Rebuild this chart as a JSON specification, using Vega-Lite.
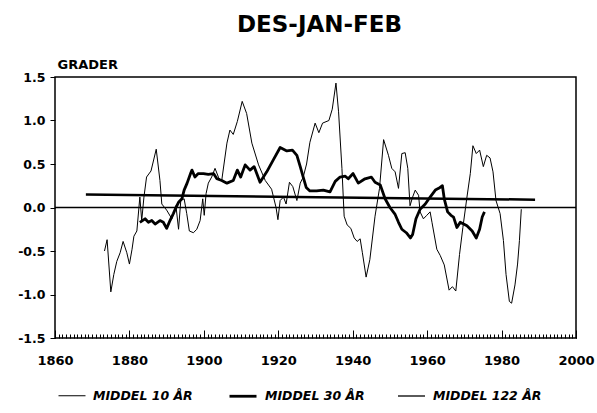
{
  "$schema": "https://vega.github.io/schema/vega-lite/v6.json",
  "width": 521,
  "height": 261,
  "autosize": {"type": "none"},
  "padding": {"left": 55, "top": 77, "right": 21, "bottom": 75},
  "background": "white",
  "title": {"text": "DES-JAN-FEB", "font": "DejaVu Sans", "fontSize": 23, "fontWeight": "bold", "color": "black", "anchor": "middle", "frame": "group", "offset": 21, "dx": 4},
  "config": {
    "view": {"stroke": "black", "strokeWidth": 1.5},
    "axis": {"labelFont": "DejaVu Sans", "labelFontWeight": "bold", "labelColor": "black", "tickColor": "black", "grid": false, "domain": false, "titleColor": "black"}
  },
  "datasets": {
    "series": [
      {"s": "MIDDEL 10 ÅR", "year": 1873.3, "v": -0.50},
      {"s": "MIDDEL 10 ÅR", "year": 1874.0, "v": -0.37},
      {"s": "MIDDEL 10 ÅR", "year": 1875.0, "v": -0.97},
      {"s": "MIDDEL 10 ÅR", "year": 1875.8, "v": -0.77},
      {"s": "MIDDEL 10 ÅR", "year": 1876.6, "v": -0.62},
      {"s": "MIDDEL 10 ÅR", "year": 1877.5, "v": -0.52},
      {"s": "MIDDEL 10 ÅR", "year": 1878.3, "v": -0.39},
      {"s": "MIDDEL 10 ÅR", "year": 1879.3, "v": -0.52},
      {"s": "MIDDEL 10 ÅR", "year": 1880.0, "v": -0.65},
      {"s": "MIDDEL 10 ÅR", "year": 1880.7, "v": -0.48},
      {"s": "MIDDEL 10 ÅR", "year": 1881.2, "v": -0.33},
      {"s": "MIDDEL 10 ÅR", "year": 1882.0, "v": -0.27},
      {"s": "MIDDEL 10 ÅR", "year": 1882.8, "v": 0.12},
      {"s": "MIDDEL 10 ÅR", "year": 1883.3, "v": -0.15},
      {"s": "MIDDEL 10 ÅR", "year": 1883.9, "v": 0.12},
      {"s": "MIDDEL 10 ÅR", "year": 1884.6, "v": 0.35},
      {"s": "MIDDEL 10 ÅR", "year": 1885.8, "v": 0.42},
      {"s": "MIDDEL 10 ÅR", "year": 1887.2, "v": 0.67},
      {"s": "MIDDEL 10 ÅR", "year": 1888.2, "v": 0.31},
      {"s": "MIDDEL 10 ÅR", "year": 1888.7, "v": 0.04},
      {"s": "MIDDEL 10 ÅR", "year": 1890.0, "v": -0.03},
      {"s": "MIDDEL 10 ÅR", "year": 1891.4, "v": -0.13},
      {"s": "MIDDEL 10 ÅR", "year": 1892.5, "v": 0.02},
      {"s": "MIDDEL 10 ÅR", "year": 1893.2, "v": -0.25},
      {"s": "MIDDEL 10 ÅR", "year": 1893.8, "v": 0.08},
      {"s": "MIDDEL 10 ÅR", "year": 1894.7, "v": 0.10},
      {"s": "MIDDEL 10 ÅR", "year": 1895.4, "v": -0.07},
      {"s": "MIDDEL 10 ÅR", "year": 1896.1, "v": -0.27},
      {"s": "MIDDEL 10 ÅR", "year": 1897.2, "v": -0.29},
      {"s": "MIDDEL 10 ÅR", "year": 1898.1, "v": -0.25},
      {"s": "MIDDEL 10 ÅR", "year": 1899.0, "v": -0.15},
      {"s": "MIDDEL 10 ÅR", "year": 1899.7, "v": 0.10},
      {"s": "MIDDEL 10 ÅR", "year": 1900.1, "v": -0.09},
      {"s": "MIDDEL 10 ÅR", "year": 1900.6, "v": 0.16},
      {"s": "MIDDEL 10 ÅR", "year": 1901.2, "v": 0.28},
      {"s": "MIDDEL 10 ÅR", "year": 1902.1, "v": 0.35},
      {"s": "MIDDEL 10 ÅR", "year": 1903.0, "v": 0.45},
      {"s": "MIDDEL 10 ÅR", "year": 1904.0, "v": 0.34},
      {"s": "MIDDEL 10 ÅR", "year": 1904.8, "v": 0.31},
      {"s": "MIDDEL 10 ÅR", "year": 1906.2, "v": 0.74},
      {"s": "MIDDEL 10 ÅR", "year": 1907.0, "v": 0.89},
      {"s": "MIDDEL 10 ÅR", "year": 1907.9, "v": 0.84},
      {"s": "MIDDEL 10 ÅR", "year": 1909.0, "v": 0.99},
      {"s": "MIDDEL 10 ÅR", "year": 1910.3, "v": 1.22},
      {"s": "MIDDEL 10 ÅR", "year": 1911.5, "v": 1.08},
      {"s": "MIDDEL 10 ÅR", "year": 1912.9, "v": 0.74},
      {"s": "MIDDEL 10 ÅR", "year": 1914.7, "v": 0.49},
      {"s": "MIDDEL 10 ÅR", "year": 1916.5, "v": 0.31},
      {"s": "MIDDEL 10 ÅR", "year": 1918.2, "v": 0.21},
      {"s": "MIDDEL 10 ÅR", "year": 1919.4, "v": 0.0},
      {"s": "MIDDEL 10 ÅR", "year": 1919.9, "v": -0.14},
      {"s": "MIDDEL 10 ÅR", "year": 1920.5, "v": 0.08},
      {"s": "MIDDEL 10 ÅR", "year": 1921.4, "v": 0.12},
      {"s": "MIDDEL 10 ÅR", "year": 1922.1, "v": 0.04},
      {"s": "MIDDEL 10 ÅR", "year": 1923.0, "v": 0.29},
      {"s": "MIDDEL 10 ÅR", "year": 1923.9, "v": 0.24},
      {"s": "MIDDEL 10 ÅR", "year": 1925.0, "v": 0.08},
      {"s": "MIDDEL 10 ÅR", "year": 1925.9, "v": 0.28},
      {"s": "MIDDEL 10 ÅR", "year": 1926.7, "v": 0.35},
      {"s": "MIDDEL 10 ÅR", "year": 1927.6, "v": 0.50},
      {"s": "MIDDEL 10 ÅR", "year": 1928.5, "v": 0.75},
      {"s": "MIDDEL 10 ÅR", "year": 1929.9, "v": 0.97},
      {"s": "MIDDEL 10 ÅR", "year": 1930.9, "v": 0.86},
      {"s": "MIDDEL 10 ÅR", "year": 1931.9, "v": 0.97},
      {"s": "MIDDEL 10 ÅR", "year": 1933.6, "v": 1.00},
      {"s": "MIDDEL 10 ÅR", "year": 1934.5, "v": 1.13},
      {"s": "MIDDEL 10 ÅR", "year": 1935.5, "v": 1.43},
      {"s": "MIDDEL 10 ÅR", "year": 1936.2, "v": 1.10},
      {"s": "MIDDEL 10 ÅR", "year": 1937.1, "v": 0.45},
      {"s": "MIDDEL 10 ÅR", "year": 1937.7, "v": -0.10},
      {"s": "MIDDEL 10 ÅR", "year": 1938.5, "v": -0.20},
      {"s": "MIDDEL 10 ÅR", "year": 1939.5, "v": -0.24},
      {"s": "MIDDEL 10 ÅR", "year": 1940.4, "v": -0.35},
      {"s": "MIDDEL 10 ÅR", "year": 1941.2, "v": -0.39},
      {"s": "MIDDEL 10 ÅR", "year": 1942.0, "v": -0.36},
      {"s": "MIDDEL 10 ÅR", "year": 1942.6, "v": -0.52},
      {"s": "MIDDEL 10 ÅR", "year": 1943.6, "v": -0.80},
      {"s": "MIDDEL 10 ÅR", "year": 1944.6, "v": -0.60},
      {"s": "MIDDEL 10 ÅR", "year": 1946.0, "v": -0.10},
      {"s": "MIDDEL 10 ÅR", "year": 1947.2, "v": 0.22},
      {"s": "MIDDEL 10 ÅR", "year": 1948.3, "v": 0.78},
      {"s": "MIDDEL 10 ÅR", "year": 1949.6, "v": 0.60},
      {"s": "MIDDEL 10 ÅR", "year": 1950.5, "v": 0.45},
      {"s": "MIDDEL 10 ÅR", "year": 1951.4, "v": 0.41},
      {"s": "MIDDEL 10 ÅR", "year": 1952.3, "v": 0.22},
      {"s": "MIDDEL 10 ÅR", "year": 1953.2, "v": 0.62},
      {"s": "MIDDEL 10 ÅR", "year": 1954.1, "v": 0.63},
      {"s": "MIDDEL 10 ÅR", "year": 1954.8, "v": 0.45},
      {"s": "MIDDEL 10 ÅR", "year": 1955.4, "v": 0.02},
      {"s": "MIDDEL 10 ÅR", "year": 1956.1, "v": 0.12},
      {"s": "MIDDEL 10 ÅR", "year": 1956.8, "v": 0.20},
      {"s": "MIDDEL 10 ÅR", "year": 1957.7, "v": 0.14},
      {"s": "MIDDEL 10 ÅR", "year": 1958.1, "v": -0.05},
      {"s": "MIDDEL 10 ÅR", "year": 1959.0, "v": -0.13},
      {"s": "MIDDEL 10 ÅR", "year": 1959.9, "v": -0.09},
      {"s": "MIDDEL 10 ÅR", "year": 1960.8, "v": -0.05},
      {"s": "MIDDEL 10 ÅR", "year": 1961.3, "v": -0.17},
      {"s": "MIDDEL 10 ÅR", "year": 1962.6, "v": -0.48},
      {"s": "MIDDEL 10 ÅR", "year": 1963.5, "v": -0.55},
      {"s": "MIDDEL 10 ÅR", "year": 1964.6, "v": -0.66},
      {"s": "MIDDEL 10 ÅR", "year": 1965.9, "v": -0.95},
      {"s": "MIDDEL 10 ÅR", "year": 1966.8, "v": -0.91},
      {"s": "MIDDEL 10 ÅR", "year": 1967.7, "v": -0.96},
      {"s": "MIDDEL 10 ÅR", "year": 1968.7, "v": -0.54},
      {"s": "MIDDEL 10 ÅR", "year": 1969.6, "v": -0.23},
      {"s": "MIDDEL 10 ÅR", "year": 1970.7, "v": 0.12},
      {"s": "MIDDEL 10 ÅR", "year": 1971.6, "v": 0.39},
      {"s": "MIDDEL 10 ÅR", "year": 1972.3, "v": 0.71},
      {"s": "MIDDEL 10 ÅR", "year": 1973.2, "v": 0.62},
      {"s": "MIDDEL 10 ÅR", "year": 1974.1, "v": 0.66},
      {"s": "MIDDEL 10 ÅR", "year": 1975.1, "v": 0.47},
      {"s": "MIDDEL 10 ÅR", "year": 1976.0, "v": 0.60},
      {"s": "MIDDEL 10 ÅR", "year": 1976.9, "v": 0.57},
      {"s": "MIDDEL 10 ÅR", "year": 1977.7, "v": 0.41},
      {"s": "MIDDEL 10 ÅR", "year": 1978.5, "v": 0.08},
      {"s": "MIDDEL 10 ÅR", "year": 1979.6, "v": -0.07},
      {"s": "MIDDEL 10 ÅR", "year": 1980.5, "v": -0.38},
      {"s": "MIDDEL 10 ÅR", "year": 1981.2, "v": -0.77},
      {"s": "MIDDEL 10 ÅR", "year": 1982.1, "v": -1.08},
      {"s": "MIDDEL 10 ÅR", "year": 1982.7, "v": -1.10},
      {"s": "MIDDEL 10 ÅR", "year": 1983.6, "v": -0.89},
      {"s": "MIDDEL 10 ÅR", "year": 1984.3, "v": -0.65},
      {"s": "MIDDEL 10 ÅR", "year": 1984.8, "v": -0.38},
      {"s": "MIDDEL 10 ÅR", "year": 1985.3, "v": -0.02},
      {"s": "MIDDEL 30 ÅR", "year": 1882.8, "v": -0.17},
      {"s": "MIDDEL 30 ÅR", "year": 1884.2, "v": -0.13},
      {"s": "MIDDEL 30 ÅR", "year": 1885.1, "v": -0.17},
      {"s": "MIDDEL 30 ÅR", "year": 1886.0, "v": -0.15},
      {"s": "MIDDEL 30 ÅR", "year": 1886.9, "v": -0.19},
      {"s": "MIDDEL 30 ÅR", "year": 1888.2, "v": -0.15},
      {"s": "MIDDEL 30 ÅR", "year": 1889.1, "v": -0.17},
      {"s": "MIDDEL 30 ÅR", "year": 1890.0, "v": -0.24},
      {"s": "MIDDEL 30 ÅR", "year": 1890.9, "v": -0.15},
      {"s": "MIDDEL 30 ÅR", "year": 1891.8, "v": -0.07},
      {"s": "MIDDEL 30 ÅR", "year": 1892.5, "v": 0.00},
      {"s": "MIDDEL 30 ÅR", "year": 1893.2, "v": 0.06},
      {"s": "MIDDEL 30 ÅR", "year": 1894.1, "v": 0.10},
      {"s": "MIDDEL 30 ÅR", "year": 1894.7, "v": 0.20},
      {"s": "MIDDEL 30 ÅR", "year": 1895.5, "v": 0.28},
      {"s": "MIDDEL 30 ÅR", "year": 1896.5, "v": 0.40},
      {"s": "MIDDEL 30 ÅR", "year": 1896.8, "v": 0.43},
      {"s": "MIDDEL 30 ÅR", "year": 1897.6, "v": 0.35},
      {"s": "MIDDEL 30 ÅR", "year": 1898.5, "v": 0.39},
      {"s": "MIDDEL 30 ÅR", "year": 1899.9, "v": 0.39},
      {"s": "MIDDEL 30 ÅR", "year": 1901.2, "v": 0.38},
      {"s": "MIDDEL 30 ÅR", "year": 1902.6, "v": 0.39},
      {"s": "MIDDEL 30 ÅR", "year": 1903.5, "v": 0.33},
      {"s": "MIDDEL 30 ÅR", "year": 1904.8, "v": 0.31},
      {"s": "MIDDEL 30 ÅR", "year": 1906.2, "v": 0.28},
      {"s": "MIDDEL 30 ÅR", "year": 1907.9, "v": 0.31},
      {"s": "MIDDEL 30 ÅR", "year": 1909.0, "v": 0.43},
      {"s": "MIDDEL 30 ÅR", "year": 1909.9, "v": 0.35},
      {"s": "MIDDEL 30 ÅR", "year": 1911.1, "v": 0.49},
      {"s": "MIDDEL 30 ÅR", "year": 1912.4, "v": 0.43},
      {"s": "MIDDEL 30 ÅR", "year": 1913.5, "v": 0.47},
      {"s": "MIDDEL 30 ÅR", "year": 1915.1, "v": 0.29},
      {"s": "MIDDEL 30 ÅR", "year": 1916.9, "v": 0.41},
      {"s": "MIDDEL 30 ÅR", "year": 1918.7, "v": 0.55},
      {"s": "MIDDEL 30 ÅR", "year": 1920.5, "v": 0.69},
      {"s": "MIDDEL 30 ÅR", "year": 1922.3, "v": 0.65},
      {"s": "MIDDEL 30 ÅR", "year": 1923.8, "v": 0.66},
      {"s": "MIDDEL 30 ÅR", "year": 1925.0, "v": 0.60},
      {"s": "MIDDEL 30 ÅR", "year": 1925.9, "v": 0.47},
      {"s": "MIDDEL 30 ÅR", "year": 1926.7, "v": 0.35},
      {"s": "MIDDEL 30 ÅR", "year": 1927.5, "v": 0.23},
      {"s": "MIDDEL 30 ÅR", "year": 1928.5, "v": 0.19},
      {"s": "MIDDEL 30 ÅR", "year": 1930.3, "v": 0.19},
      {"s": "MIDDEL 30 ÅR", "year": 1932.1, "v": 0.20},
      {"s": "MIDDEL 30 ÅR", "year": 1933.9, "v": 0.18},
      {"s": "MIDDEL 30 ÅR", "year": 1935.3, "v": 0.30},
      {"s": "MIDDEL 30 ÅR", "year": 1936.6, "v": 0.35},
      {"s": "MIDDEL 30 ÅR", "year": 1938.0, "v": 0.36},
      {"s": "MIDDEL 30 ÅR", "year": 1938.8, "v": 0.33},
      {"s": "MIDDEL 30 ÅR", "year": 1940.1, "v": 0.39},
      {"s": "MIDDEL 30 ÅR", "year": 1941.5, "v": 0.28},
      {"s": "MIDDEL 30 ÅR", "year": 1943.3, "v": 0.33},
      {"s": "MIDDEL 30 ÅR", "year": 1945.0, "v": 0.35},
      {"s": "MIDDEL 30 ÅR", "year": 1946.0, "v": 0.29},
      {"s": "MIDDEL 30 ÅR", "year": 1947.4, "v": 0.26},
      {"s": "MIDDEL 30 ÅR", "year": 1948.7, "v": 0.10},
      {"s": "MIDDEL 30 ÅR", "year": 1950.0, "v": 0.00},
      {"s": "MIDDEL 30 ÅR", "year": 1951.4, "v": -0.08},
      {"s": "MIDDEL 30 ÅR", "year": 1952.3, "v": -0.17},
      {"s": "MIDDEL 30 ÅR", "year": 1953.2, "v": -0.25},
      {"s": "MIDDEL 30 ÅR", "year": 1954.4, "v": -0.29},
      {"s": "MIDDEL 30 ÅR", "year": 1955.5, "v": -0.35},
      {"s": "MIDDEL 30 ÅR", "year": 1956.1, "v": -0.31},
      {"s": "MIDDEL 30 ÅR", "year": 1957.0, "v": -0.13},
      {"s": "MIDDEL 30 ÅR", "year": 1958.1, "v": -0.02},
      {"s": "MIDDEL 30 ÅR", "year": 1959.5, "v": 0.04},
      {"s": "MIDDEL 30 ÅR", "year": 1960.8, "v": 0.12},
      {"s": "MIDDEL 30 ÅR", "year": 1962.2, "v": 0.20},
      {"s": "MIDDEL 30 ÅR", "year": 1963.1, "v": 0.22},
      {"s": "MIDDEL 30 ÅR", "year": 1964.1, "v": 0.25},
      {"s": "MIDDEL 30 ÅR", "year": 1964.6, "v": 0.10},
      {"s": "MIDDEL 30 ÅR", "year": 1965.5, "v": -0.05},
      {"s": "MIDDEL 30 ÅR", "year": 1966.4, "v": -0.09},
      {"s": "MIDDEL 30 ÅR", "year": 1967.1, "v": -0.11},
      {"s": "MIDDEL 30 ÅR", "year": 1968.0, "v": -0.23},
      {"s": "MIDDEL 30 ÅR", "year": 1968.9, "v": -0.17},
      {"s": "MIDDEL 30 ÅR", "year": 1969.8, "v": -0.19},
      {"s": "MIDDEL 30 ÅR", "year": 1970.7, "v": -0.21},
      {"s": "MIDDEL 30 ÅR", "year": 1972.1, "v": -0.27},
      {"s": "MIDDEL 30 ÅR", "year": 1973.2, "v": -0.35},
      {"s": "MIDDEL 30 ÅR", "year": 1974.1, "v": -0.25},
      {"s": "MIDDEL 30 ÅR", "year": 1974.8, "v": -0.11},
      {"s": "MIDDEL 30 ÅR", "year": 1975.4, "v": -0.05}
    ],
    "long": [
      {"s": "MIDDEL 122 ÅR", "year": 1868.3, "v": 0.15},
      {"s": "MIDDEL 122 ÅR", "year": 1989.0, "v": 0.09}
    ],
    "zero": [{"v": 0}]
  },
  "layer": [
    {
      "data": {"name": "zero"},
      "mark": {"type": "rule", "color": "black", "strokeWidth": 1.3},
      "encoding": {"y": {"field": "v", "type": "quantitative"}}
    },
    {
      "data": {"name": "series"},
      "mark": {"type": "line", "color": "black", "strokeJoin": "round"},
      "encoding": {
        "x": {"field": "year", "type": "quantitative", "scale": {"domain": [1860, 2000], "nice": false, "zero": false},
          "axis": {"title": null, "orient": "bottom", "values": [1860, 1880, 1900, 1920, 1940, 1960, 1980, 2000], "format": "d", "tickSize": -8, "tickWidth": 1, "labelFontSize": 13, "labelPadding": 24, "labelFlush": false}},
        "y": {"field": "v", "type": "quantitative", "scale": {"domain": [-1.5, 1.5], "nice": false},
          "axis": {"title": "GRADER", "values": [-1.5, -1, -0.5, 0, 0.5, 1, 1.5], "labelExpr": "datum.value < 0 ? '-' + format(-datum.value, '.1f') : format(datum.value, '.1f')", "tickSize": 5, "labelPadding": 5, "labelFontSize": 12.5, "titleAngle": 0, "titleAlign": "left", "titleBaseline": "alphabetic", "titleX": 2, "titleY": -9, "titleFont": "DejaVu Sans", "titleFontWeight": "bold", "titleFontSize": 13}},
        "detail": {"field": "s"},
        "strokeWidth": {"field": "s", "type": "nominal",
          "scale": {"type": "ordinal", "domain": ["MIDDEL 10 ÅR", "MIDDEL 30 ÅR", "MIDDEL 122 ÅR"], "range": [1, 2.8, 1.3]},
          "legend": {"title": null, "orient": "none", "direction": "horizontal", "legendX": 3, "legendY": 304, "symbolType": "stroke", "symbolSize": 729, "symbolStrokeColor": "black", "labelFont": "DejaVu Sans", "labelFontWeight": "bold", "labelFontStyle": "italic", "labelFontSize": 12.5, "labelColor": "black", "labelOffset": 7, "columnPadding": 30, "labelLimit": 300}}
      }
    },
    {
      "data": {"name": "long"},
      "mark": {"type": "line", "color": "black"},
      "encoding": {
        "x": {"field": "year", "type": "quantitative",
          "axis": {"title": null, "orient": "bottom", "labels": false, "ticks": true, "tickSize": -4, "tickWidth": 1, "tickColor": "black", "values": [1860,1861,1862,1863,1864,1865,1866,1867,1868,1869,1870,1871,1872,1873,1874,1875,1876,1877,1878,1879,1880,1881,1882,1883,1884,1885,1886,1887,1888,1889,1890,1891,1892,1893,1894,1895,1896,1897,1898,1899,1900,1901,1902,1903,1904,1905,1906,1907,1908,1909,1910,1911,1912,1913,1914,1915,1916,1917,1918,1919,1920,1921,1922,1923,1924,1925,1926,1927,1928,1929,1930,1931,1932,1933,1934,1935,1936,1937,1938,1939,1940,1941,1942,1943,1944,1945,1946,1947,1948,1949,1950,1951,1952,1953,1954,1955,1956,1957,1958,1959,1960,1961,1962,1963,1964,1965,1966,1967,1968,1969,1970,1971,1972,1973,1974,1975,1976,1977,1978,1979,1980,1981,1982,1983,1984,1985,1986,1987,1988,1989,1990,1991,1992,1993,1994,1995,1996,1997,1998,1999,2000]}},
        "y": {"field": "v", "type": "quantitative"},
        "strokeWidth": {"field": "s", "type": "nominal", "legend": null}
      }
    }
  ],
  "resolve": {"axis": {"x": "independent"}}
}
